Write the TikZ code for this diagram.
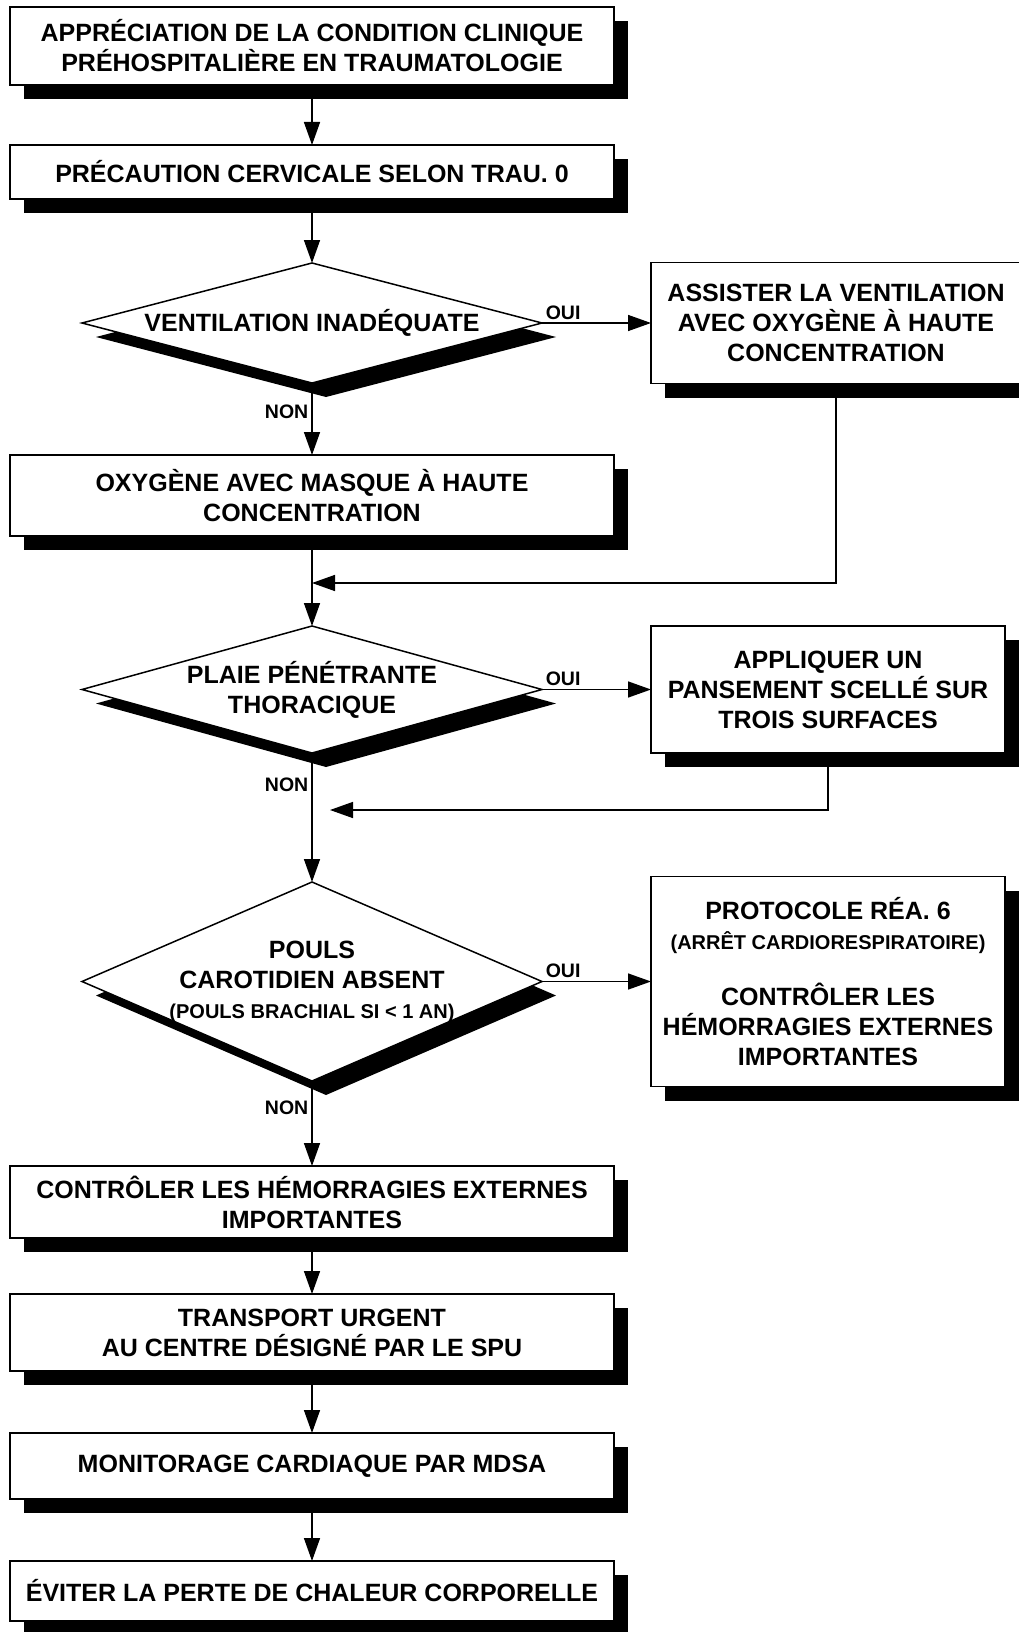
\documentclass[tikz,border=0pt]{standalone}
\usepackage{fontspec}
\setmainfont{Liberation Sans}
\usetikzlibrary{arrows.meta,positioning,shapes.geometric,shadows}

\newcommand{\petit}[1]{{\fontsize{20}{24}\selectfont #1}}

\begin{document}
\begin{tikzpicture}[
  x=1pt,y=-1pt,
  node distance=60pt,
  stage/.style={draw,fill=white,line width=1.5pt,align=center,minimum width=604pt,inner sep=0pt,outer sep=0pt,
    font=\fontsize{25}{30}\selectfont\bfseries,
    drop shadow={shadow xshift=14pt,shadow yshift=-14pt,opacity=1,fill=black}},
  test/.style={stage,diamond,aspect=3.8,minimum width=460pt,inner xsep=-80pt,inner ysep=-20pt},
  flow/.style={-{Triangle[length=23pt,width=16pt]},line width=1.5pt},
  branch/.style={font=\fontsize{19.5}{22}\selectfont\bfseries,inner sep=3pt}
]
\useasboundingbox (0,0) rectangle (1018,1632);

\node[stage,minimum height=78pt] (n0) at (312,46) {APPRÉCIATION DE LA CONDITION CLINIQUE\\PRÉHOSPITALIÈRE EN TRAUMATOLOGIE};
\node[stage,minimum height=54pt,below=60pt of n0] (n1) {PRÉCAUTION CERVICALE SELON TRAU. 0};
\draw[flow] (n0) -- (n1);
\node[test,minimum height=120pt,below=64pt of n1] (d1) {VENTILATION INADÉQUATE};
\draw[flow] (n1) -- (d1);
\node[stage,minimum width=370pt,minimum height=121pt,right=109pt of d1] (r1) {ASSISTER LA VENTILATION\\AVEC OXYGÈNE À HAUTE\\CONCENTRATION};
\draw[flow] (d1) -- node[branch,above right,pos=0]{OUI} (r1);
\node[stage,minimum height=81pt,below=72pt of d1] (n2) {OXYGÈNE AVEC MASQUE À HAUTE\\CONCENTRATION};
\draw[flow] (d1) -- node[branch,left,pos=0.4]{NON} (n2);
\coordinate[below=47pt of n2.south] (j1);
\draw[flow] (r1) |- (j1);

\node[test,minimum height=127pt,below=90pt of n2] (d2) {PLAIE PÉNÉTRANTE\\THORACIQUE};
\draw[flow] (n2) -- (d2);
\node[stage,minimum width=354pt,minimum height=127pt,right=109pt of d2] (r2) {APPLIQUER UN\\PANSEMENT SCELLÉ SUR\\TROIS SURFACES};
\draw[flow] (d2) -- node[branch,above right,pos=0]{OUI} (r2);
\coordinate[below=57pt of d2.south,xshift=18pt] (j2);
\draw[flow] (r2) |- (j2);

\node[test,minimum height=199pt,below=129pt of d2] (d3) {POULS\\CAROTIDIEN ABSENT\\\petit{(POULS BRACHIAL SI < 1 AN)}};
\draw[flow] (d2) -- node[branch,left,pos=0.25]{NON} (d3);
\node[stage,minimum width=354pt,minimum height=210pt,right=109pt of d3] (r3) {PROTOCOLE RÉA. 6\\\petit{(ARRÊT CARDIORESPIRATOIRE)}\\[26pt]CONTRÔLER LES\\HÉMORRAGIES EXTERNES\\IMPORTANTES};
\draw[flow] (d3) -- node[branch,above right,pos=0]{OUI} (r3);

\node[stage,minimum height=72pt,below=85pt of d3] (n3) {CONTRÔLER LES HÉMORRAGIES EXTERNES\\IMPORTANTES};
\draw[flow] (d3) -- node[branch,left,pos=0.32]{NON} (n3);
\node[stage,minimum height=77pt,below=56pt of n3] (n4) {TRANSPORT URGENT\\AU CENTRE DÉSIGNÉ PAR LE SPU};
\draw[flow] (n3) -- (n4);
\node[stage,minimum height=66pt,below=62pt of n4] (n5) {MONITORAGE CARDIAQUE PAR MDSA};
\draw[flow] (n4) -- (n5);
\node[stage,minimum height=60pt,below=62pt of n5] (n6) {ÉVITER LA PERTE DE CHALEUR CORPORELLE};
\draw[flow] (n5) -- (n6);
\end{tikzpicture}
\end{document}
